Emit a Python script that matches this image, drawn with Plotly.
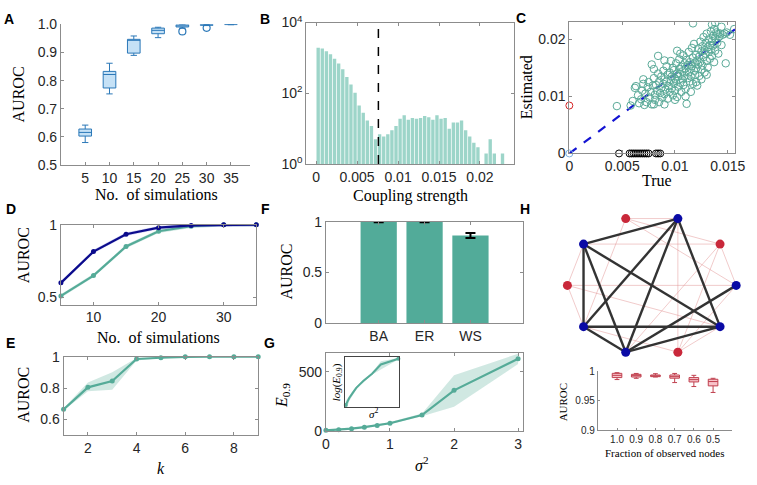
import numpy as np
import plotly.graph_objects as go

W, H = 757, 485

# ---------------- data ----------------
# A: AUROC vs number of simulations (box stats)
a_x = [5, 10, 15, 20, 25, 30, 35]
a_lo = [0.580, 0.753, 0.890, 0.953, 0.987, 0.996, 0.999]
a_q1 = [0.603, 0.774, 0.898, 0.967, 0.991, 0.997, 0.9995]
a_med = [0.616, 0.822, 0.945, 0.979, 0.995, 0.999, 1.0]
a_q3 = [0.628, 0.833, 0.947, 0.987, 0.999, 1.0, 1.0]
a_hi = [0.642, 0.862, 0.959, 0.990, 1.0, 1.0, 1.0]
a_out_x = [25, 30]
a_out_y = [0.975, 0.988]

# B: histogram of coupling strengths (bin width 0.0005 starting at 0)
b_bin_width = 0.0005
b_counts = [1950, 1840, 1550, 1260, 940, 700, 480, 290, 176, 104, 45, 28, 17, 12,
            5, 7, 6, 7, 9, 12, 19, 24, 18, 20, 19, 20, 23, 21, 18, 24, 19, 20,
            10, 15, 15, 17, 9, 6, 4, 3, 0, 2, 5, 2, 0, 2]
b_threshold = 0.0076

# C: true vs estimated coupling (x1e-3)
c_pts = [
    (4.5, 8.3), (5.8, 8.4), (6.0, 9.2), (6.2, 11.5), (6.3, 11.8), (6.5, 10.2), (6.6, 8.8), (6.8, 9.5),
    (6.9, 11.0), (7.0, 12.2), (7.1, 8.5), (7.2, 10.5), (7.3, 9.0), (7.4, 11.6), (7.5, 12.5), (7.6, 9.8),
    (7.7, 10.8), (7.8, 8.6), (7.8, 15.6), (7.9, 11.9), (8.0, 13.2), (8.1, 9.4), (8.1, 10.3), (8.2, 12.0),
    (8.3, 11.0), (8.4, 17.1), (8.4, 14.0), (8.5, 9.0), (8.5, 12.6), (8.6, 10.6), (8.7, 13.5), (8.7, 11.5),
    (8.8, 9.8), (8.9, 14.5), (8.9, 12.2), (9.0, 10.4), (9.0, 13.0), (9.1, 11.2), (9.2, 15.3), (9.2, 12.6),
    (9.3, 9.6), (9.3, 13.8), (9.4, 11.8), (9.5, 10.8), (9.5, 14.2), (9.6, 12.9), (9.6, 16.2), (9.7, 11.4),
    (9.7, 13.5), (9.8, 15.0), (9.8, 10.2), (9.9, 12.3), (9.9, 14.6), (10.0, 13.1), (10.0, 11.0), (10.1, 15.8),
    (10.1, 12.7), (10.2, 14.0), (10.2, 9.9), (10.3, 13.5), (10.3, 11.7), (10.4, 16.5), (10.4, 14.8), (10.5, 12.4),
    (10.5, 13.9), (10.6, 10.8), (10.6, 15.2), (10.7, 13.0), (10.7, 14.4), (10.8, 17.2), (10.8, 12.0), (10.9, 15.8),
    (10.9, 13.6), (11.0, 14.9), (11.0, 11.3), (11.1, 16.4), (11.1, 8.7), (11.2, 13.2), (11.2, 15.5), (11.3, 14.2),
    (11.3, 17.8), (11.4, 12.6), (11.4, 16.0), (11.5, 14.8), (11.5, 13.5), (11.6, 18.5), (11.6, 15.3), (11.7, 12.2),
    (11.7, 22.8), (11.7, 16.8), (11.8, 14.5), (11.8, 19.2), (11.9, 15.9), (11.9, 13.8), (12.0, 17.3), (12.0, 14.9),
    (12.1, 16.3), (12.1, 11.9), (12.2, 23.2), (12.2, 18.4), (12.2, 15.6), (12.3, 17.0), (12.3, 13.6), (12.4, 19.6),
    (12.4, 16.1), (12.5, 14.7), (12.5, 17.9), (12.6, 18.8), (12.6, 15.4), (12.7, 20.4), (12.7, 16.9), (12.8, 14.2),
    (12.8, 18.1), (12.9, 17.5), (12.9, 19.4), (13.0, 16.2), (13.0, 21.0), (13.1, 18.6), (13.1, 15.1), (13.2, 17.8),
    (13.2, 20.0), (13.3, 19.0), (13.3, 16.6), (13.4, 21.4), (13.4, 18.2), (13.5, 22.6), (13.5, 19.7), (13.5, 17.1),
    (13.6, 20.6), (13.6, 18.9), (13.7, 21.8), (13.7, 16.0), (13.8, 20.2), (13.8, 18.0), (13.9, 21.2), (14.0, 19.4),
    (14.0, 20.9), (14.1, 17.5), (14.2, 20.5), (14.3, 21.0), (14.4, 19.0), (14.5, 20.8), (14.7, 21.0), (14.8, 15.8),
    (14.9, 21.2), (15.2, 20.8), (15.6, 21.8), (13.0, 13.8), (12.0, 12.5), (11.0, 10.0), (10.0, 9.4), (9.0, 8.6),
    (8.0, 8.6), (7.0, 13.0), (8.0, 14.8), (9.0, 16.3), (10.5, 17.5), (12.5, 13.0), (11.5, 10.8), (13.8, 22.9),
    (14.4, 22.2), (10.2, 18.0),
]
c_true = [p[0] * 1e-3 for p in c_pts]
c_est = [p[1] * 1e-3 for p in c_pts]
c_missed_x = [0.0047, 0.0057, 0.0059, 0.0061, 0.0063, 0.0065, 0.0067, 0.0069, 0.0071,
              0.0073, 0.0075, 0.0082, 0.0084, 0.0086]
c_false_y = 0.0084
c_fit = [(0.0, 0.0), (0.0157, 0.0218)]

# D: AUROC vs simulations for two settings
d_x = [5, 10, 15, 20, 25, 30, 35]
d_navy = [0.60, 0.815, 0.935, 0.980, 0.995, 1.0, 1.0]
d_teal = [0.51, 0.650, 0.850, 0.955, 0.990, 1.0, 1.0]

# E: AUROC vs k
e_k = [1, 2, 3, 4, 5, 6, 7, 8, 9]
e_mean = [0.665, 0.805, 0.845, 0.985, 0.993, 0.999, 1.0, 1.0, 1.0]
e_up = [0.672, 0.835, 0.900, 0.992, 0.996, 1.0, 1.0, 1.0, 1.0]
e_dn = [0.658, 0.780, 0.790, 0.975, 0.990, 0.998, 1.0, 1.0, 1.0]

# F: network types
f_cat = ["BA", "ER", "WS"]
f_val = [0.998, 0.998, 0.865]
f_err = [0.003, 0.003, 0.025]

# G: E_0.9 vs sigma^2
g_s = [0, 0.2, 0.4, 0.6, 0.8, 1.0, 1.5, 2, 3]
g_e = [6, 12, 20, 33, 47, 66, 135, 343, 610]
g_up = [9, 16, 25, 38, 54, 76, 148, 470, 652]
g_dn = [3, 9, 16, 28, 41, 57, 124, 205, 565]

# H: network (10 nodes on a circle), observed (blue) / hidden (red)
h_observed = [1, 0, 1, 0, 1, 0, 1, 1, 0, 1]
h_edges_obs = [(4, 2), (4, 6), (4, 7), (4, 9), (2, 6), (2, 7), (2, 9), (6, 9), (6, 7), (7, 0), (7, 9)]
h_edges_hid = [(3, 2), (3, 1), (3, 0), (3, 6), (1, 4), (1, 8), (1, 7), (1, 0), (5, 0), (5, 4),
               (5, 6), (5, 9), (8, 2), (8, 9), (8, 0), (8, 6)]
h_frac = ["1.0", "0.9", "0.8", "0.7", "0.6", "0.5"]
h_lo = [0.9857, 0.9878, 0.9900, 0.9806, 0.9739, 0.9639]
h_q1 = [0.9890, 0.9900, 0.9906, 0.9880, 0.9817, 0.9750]
h_med = [0.9928, 0.9923, 0.9920, 0.9906, 0.9856, 0.9823]
h_q3 = [0.9962, 0.9945, 0.9934, 0.9934, 0.9890, 0.9862]
h_hi = [0.9973, 0.9960, 0.9956, 0.9960, 0.9928, 0.9878]

# ---------------- style ----------------
TEAL = "#55ab98"
TEAL_BAND = "rgba(85,171,152,0.28)"
NAVY = "#0b0b8c"
AXC = "#8c8c8c"
TXT = "#262626"
SANS = "Liberation Sans, Arial, sans-serif"
SERIF = "Liberation Serif, Times New Roman, serif"


def xd(a, b):
    return [a / W, b / W]


def yd(top, bot):
    return [1 - bot / H, 1 - top / H]


def axis(dom, rng, tv=None, tt=None, box=True, size=14, **kw):
    d = dict(domain=dom, range=rng, showline=True, linecolor=AXC, linewidth=1,
             mirror=("ticks" if box else False), ticks="inside", ticklen=3, tickcolor=AXC,
             tickfont=dict(family=SANS, size=size, color=TXT), showgrid=False,
             zeroline=False, fixedrange=True)
    if tv is not None:
        d["tickvals"] = tv
    if tt is not None:
        d["ticktext"] = tt
    d.update(kw)
    return d


fig = go.Figure()

# ---- A ----
fig.add_trace(go.Box(x=a_x, q1=a_q1, median=a_med, q3=a_q3, lowerfence=a_lo, upperfence=a_hi,
                     boxpoints=False, width=2.6, whiskerwidth=0.5,
                     fillcolor="rgba(150,200,238,0.55)", line=dict(color="#2b78b8", width=1),
                     xaxis="x", yaxis="y", showlegend=False))
fig.add_trace(go.Scatter(x=a_out_x, y=a_out_y, mode="markers",
                         marker=dict(symbol="circle-open", size=7, color="#2b78b8", line=dict(width=1.2)),
                         xaxis="x", yaxis="y", showlegend=False))

# ---- B ----
b_centers = [(i + 0.5) * b_bin_width for i in range(len(b_counts))]
b_y = [c if c > 0 else None for c in b_counts]
fig.add_trace(go.Bar(x=b_centers, y=b_y, width=b_bin_width * 0.82, marker=dict(color="#9dd5c9", line=dict(width=0)),
                     xaxis="x2", yaxis="y2", showlegend=False))
fig.add_trace(go.Scatter(x=[b_threshold, b_threshold], y=[1, 10000], mode="lines",
                         line=dict(color="black", width=1.5, dash="dash"),
                         xaxis="x2", yaxis="y2", showlegend=False))

# ---- C ----
fig.add_trace(go.Scatter(x=[p[0] for p in c_fit], y=[p[1] for p in c_fit], mode="lines",
                         line=dict(color="#1414d2", width=2.2, dash="dash"),
                         xaxis="x3", yaxis="y3", showlegend=False))
fig.add_trace(go.Scatter(x=c_true, y=c_est, mode="markers",
                         marker=dict(symbol="circle-open", size=7.5, color="#5aaa98", line=dict(width=1)),
                         xaxis="x3", yaxis="y3", showlegend=False))
fig.add_trace(go.Scatter(x=c_missed_x, y=[0] * len(c_missed_x), mode="markers", cliponaxis=False,
                         marker=dict(symbol="circle-open", size=7, color="black", line=dict(width=1)),
                         xaxis="x3", yaxis="y3", showlegend=False))
fig.add_trace(go.Scatter(x=[0], y=[c_false_y], mode="markers", cliponaxis=False,
                         marker=dict(symbol="circle-open", size=7, color="#d62728", line=dict(width=1)),
                         xaxis="x3", yaxis="y3", showlegend=False))
fig.add_trace(go.Scatter(x=[0], y=[0], mode="markers", cliponaxis=False,
                         marker=dict(symbol="circle-open", size=7, color="#7fb2e0", line=dict(width=1)),
                         xaxis="x3", yaxis="y3", showlegend=False))

# ---- D ----
for vals, col, band in [(d_teal, TEAL, TEAL_BAND), (d_navy, NAVY, "rgba(60,60,200,0.25)")]:
    fig.add_trace(go.Scatter(x=d_x + d_x[::-1], y=[v + 0.012 for v in vals] + [v - 0.012 for v in vals[::-1]],
                             fill="toself", fillcolor=band, line=dict(width=0), mode="lines",
                             xaxis="x4", yaxis="y4", showlegend=False, hoverinfo="skip"))
    fig.add_trace(go.Scatter(x=d_x, y=vals, mode="lines+markers", line=dict(color=col, width=2.2),
                             marker=dict(size=5, color=col), cliponaxis=False,
                             xaxis="x4", yaxis="y4", showlegend=False))

# ---- E ----
fig.add_trace(go.Scatter(x=e_k + e_k[::-1], y=e_up + e_dn[::-1], fill="toself", fillcolor=TEAL_BAND,
                         line=dict(width=0), mode="lines", xaxis="x5", yaxis="y5",
                         showlegend=False, hoverinfo="skip"))
fig.add_trace(go.Scatter(x=e_k, y=e_mean, mode="lines+markers", line=dict(color=TEAL, width=2.2),
                         marker=dict(size=5, color=TEAL), cliponaxis=False,
                         xaxis="x5", yaxis="y5", showlegend=False))

# ---- F ----
fig.add_trace(go.Bar(x=[1, 2, 3], y=f_val, width=0.79, marker=dict(color="#52ab99", line=dict(width=0)),
                     error_y=dict(type="data", array=f_err, color="black", thickness=2, width=5),
                     xaxis="x6", yaxis="y6", showlegend=False))

# ---- G ----
fig.add_trace(go.Scatter(x=g_s + g_s[::-1], y=g_up + g_dn[::-1], fill="toself", fillcolor=TEAL_BAND,
                         line=dict(width=0), mode="lines", xaxis="x7", yaxis="y7",
                         showlegend=False, hoverinfo="skip"))
fig.add_trace(go.Scatter(x=g_s, y=g_e, mode="lines+markers", line=dict(color=TEAL, width=2.2),
                         marker=dict(size=5, color=TEAL), cliponaxis=False,
                         xaxis="x7", yaxis="y7", showlegend=False))
# inset: log(E)
lg_e = list(np.log(g_e))
lg_up = list(np.log(g_up))
lg_dn = list(np.log(g_dn))
fig.add_trace(go.Scatter(x=g_s + g_s[::-1], y=lg_up + lg_dn[::-1], fill="toself", fillcolor=TEAL_BAND,
                         line=dict(width=0), mode="lines", xaxis="x8", yaxis="y8",
                         showlegend=False, hoverinfo="skip"))
fig.add_trace(go.Scatter(x=g_s, y=lg_e, mode="lines", line=dict(color=TEAL, width=2),
                         xaxis="x8", yaxis="y8", showlegend=False))
fig.add_trace(go.Scatter(x=[g_s[0], g_s[-1]], y=[lg_e[0], lg_e[-1]], mode="markers", cliponaxis=False,
                         marker=dict(size=4, color=TEAL), xaxis="x8", yaxis="y8", showlegend=False))

# ---- H network ----
theta = np.deg2rad(36 * np.arange(10))
nx, ny = np.cos(theta), np.sin(theta)


def edge_xy(edges):
    xs, ys = [], []
    for i, j in edges:
        xs += [nx[i], nx[j], None]
        ys += [ny[i], ny[j], None]
    return xs, ys


ex, ey = edge_xy(h_edges_hid)
fig.add_trace(go.Scatter(x=ex, y=ey, mode="lines", line=dict(color="rgba(225,140,140,0.45)", width=1),
                         xaxis="x9", yaxis="y9", showlegend=False, hoverinfo="skip", cliponaxis=False))
ex, ey = edge_xy(h_edges_obs)
fig.add_trace(go.Scatter(x=ex, y=ey, mode="lines", line=dict(color="#333333", width=2.4),
                         xaxis="x9", yaxis="y9", showlegend=False, hoverinfo="skip", cliponaxis=False))
fig.add_trace(go.Scatter(x=list(nx), y=list(ny), mode="markers", cliponaxis=False,
                         marker=dict(size=9, color=["#0a0aa5" if o else "#c9283a" for o in h_observed]),
                         xaxis="x9", yaxis="y9", showlegend=False))

# ---- H box ----
fig.add_trace(go.Box(x=list(range(1, 7)), q1=h_q1, median=h_med, q3=h_q3, lowerfence=h_lo, upperfence=h_hi,
                     boxpoints=False, width=0.5, whiskerwidth=0.5,
                     fillcolor="rgba(245,170,180,0.7)", line=dict(color="#c0404f", width=1),
                     xaxis="x10", yaxis="y10", showlegend=False))

# ---------------- layout ----------------
lay = dict(width=W, height=H, margin=dict(l=0, r=0, t=0, b=0), plot_bgcolor="white",
           paper_bgcolor="white", showlegend=False)

lay["xaxis"] = axis(xd(58, 251), [0, 39], a_x, [str(v) for v in a_x], box=False, anchor="y")
lay["yaxis"] = axis(yd(15, 161), [0.5, 1.0], [0.5, 0.6, 0.7, 0.8, 0.9, 1.0],
                    ["0.5", "0.6", "0.7", "0.8", "0.9", "1.0"], box=False, anchor="x")

lay["xaxis2"] = axis(xd(308, 520), [-0.0012, 0.0242], [0, 0.005, 0.01, 0.015, 0.02],
                     ["0", "0.005", "0.01", "0.015", "0.02"], anchor="y2")
lay["yaxis2"] = axis(yd(13, 160), [0, 4], [1, 100, 10000],
                     ["10<sup>0</sup>", "10<sup>2</sup>", "10<sup>4</sup>"], type="log", anchor="x2")

lay["xaxis3"] = axis(xd(576, 745), [0, 0.0157], [0, 0.005, 0.01, 0.015],
                     ["0", "0.005", "0.01", "0.015"], anchor="y3")
lay["yaxis3"] = axis(yd(12.7, 149), [0, 0.0230], [0, 0.01, 0.02], ["0", "0.01", "0.02"], anchor="x3")

lay["xaxis4"] = axis(xd(58, 257), [5, 35], [10, 20, 30], ["10", "20", "30"], anchor="y4")
lay["yaxis4"] = axis(yd(223, 306), [0.45, 1.0], [0.5, 1.0], ["0.5", "1"], anchor="x4")

lay["xaxis5"] = axis(xd(60.7, 259), [1, 9], [2, 4, 6, 8], ["2", "4", "6", "8"], anchor="y5")
lay["yaxis5"] = axis(yd(360, 441.7), [0.5, 1.0], [0.6, 0.8, 1.0], ["0.6", "0.8", "1"], anchor="x5")

lay["xaxis6"] = axis(xd(328, 529), [-0.15, 4.15], [1, 2, 3], f_cat, anchor="y6")
lay["yaxis6"] = axis(yd(220, 325), [0, 1.0], [0, 0.5, 1.0], ["0", "0.5", "1"], anchor="x6")

lay["xaxis7"] = axis(xd(328, 529), [0, 3.08], [0, 1, 2, 3], ["0", "1", "2", "3"], anchor="y7")
lay["yaxis7"] = axis(yd(356.7, 437.3), [0, 654], [0, 500], ["0", "500"], anchor="x7")

lay["xaxis8"] = axis(xd(347.3, 402.7), [-0.05, 3.05], showticklabels=False, ticks="", anchor="y8",
                     linecolor="#444444")
lay["yaxis8"] = axis(yd(360.7, 412.7), [1.55, 6.55], showticklabels=False, ticks="", anchor="x8",
                     linecolor="#444444")

lay["xaxis9"] = dict(domain=xd(565, 755), range=[-1.105, 1.105], showline=False, showgrid=False,
                     zeroline=False, showticklabels=False, ticks="", anchor="y9", fixedrange=True)
lay["yaxis9"] = dict(domain=yd(205, 367), range=[-1.11, 1.11], showline=False, showgrid=False,
                     zeroline=False, showticklabels=False, ticks="", anchor="x9", fixedrange=True)

lay["xaxis10"] = axis(xd(605, 742), [0, 7], list(range(1, 7)), h_frac, box=False, size=10,
                      anchor="y10", ticklen=2)
lay["yaxis10"] = axis(yd(375, 436.5), [0.9, 1.0], [0.9, 0.95, 1.0], ["0.9", "0.95", "1"], box=False,
                      size=10, anchor="x10", ticklen=2)

# annotations
ann = []


def add_text(text, xp, yp, size, family=SERIF, angle=0, bold=False, xanchor="center", yanchor="middle"):
    ann.append(dict(text=("<b>%s</b>" % text) if bold else text, x=xp / W, y=1 - yp / H,
                    xref="paper", yref="paper", showarrow=False, textangle=angle,
                    font=dict(family=family, size=size, color="black"),
                    xanchor=xanchor, yanchor=yanchor))


for lab, xp, yp in [("A", 5, 9), ("B", 266, 9), ("C", 527, 8), ("D", 7, 207), ("E", 7, 346),
                    ("F", 266, 207), ("G", 271, 346), ("H", 531, 207)]:
    add_text(lab, xp, yp, 14, family=SANS, bold=True)

add_text("AUROC", 15, 88, 16, angle=-90)
add_text("No.&nbsp; of simulations", 155, 192, 16)
add_text("Coupling strength", 414, 193, 16)
add_text("True", 665, 177, 16)
add_text("Estimated", 532, 80, 16, angle=-90)
add_text("AUROC", 20, 255, 16, angle=-90)
add_text("No.&nbsp; of simulations", 157, 340, 16)
add_text("AUROC", 20, 400, 16, angle=-90)
add_text("<i>k</i>", 160, 476, 16)
add_text("AUROC", 288, 272, 16, angle=-90)
add_text("<i>E</i><sub>0.9</sub>", 283, 400, 16, angle=-90)
add_text("<i>σ</i><sup>2</sup>", 425, 472, 16)
add_text("<i>log</i>(<i>E</i><sub>0.9</sub>)", 339, 387, 11, angle=-90)
add_text("<i>σ</i><sup>2</sup>", 376, 419, 11)
add_text("AUROC", 569, 407, 11, angle=-90)
add_text("Fraction of observed nodes", 673, 460, 11)

lay["annotations"] = ann
fig.update_layout(**lay)
fig.write_html("out.html")
